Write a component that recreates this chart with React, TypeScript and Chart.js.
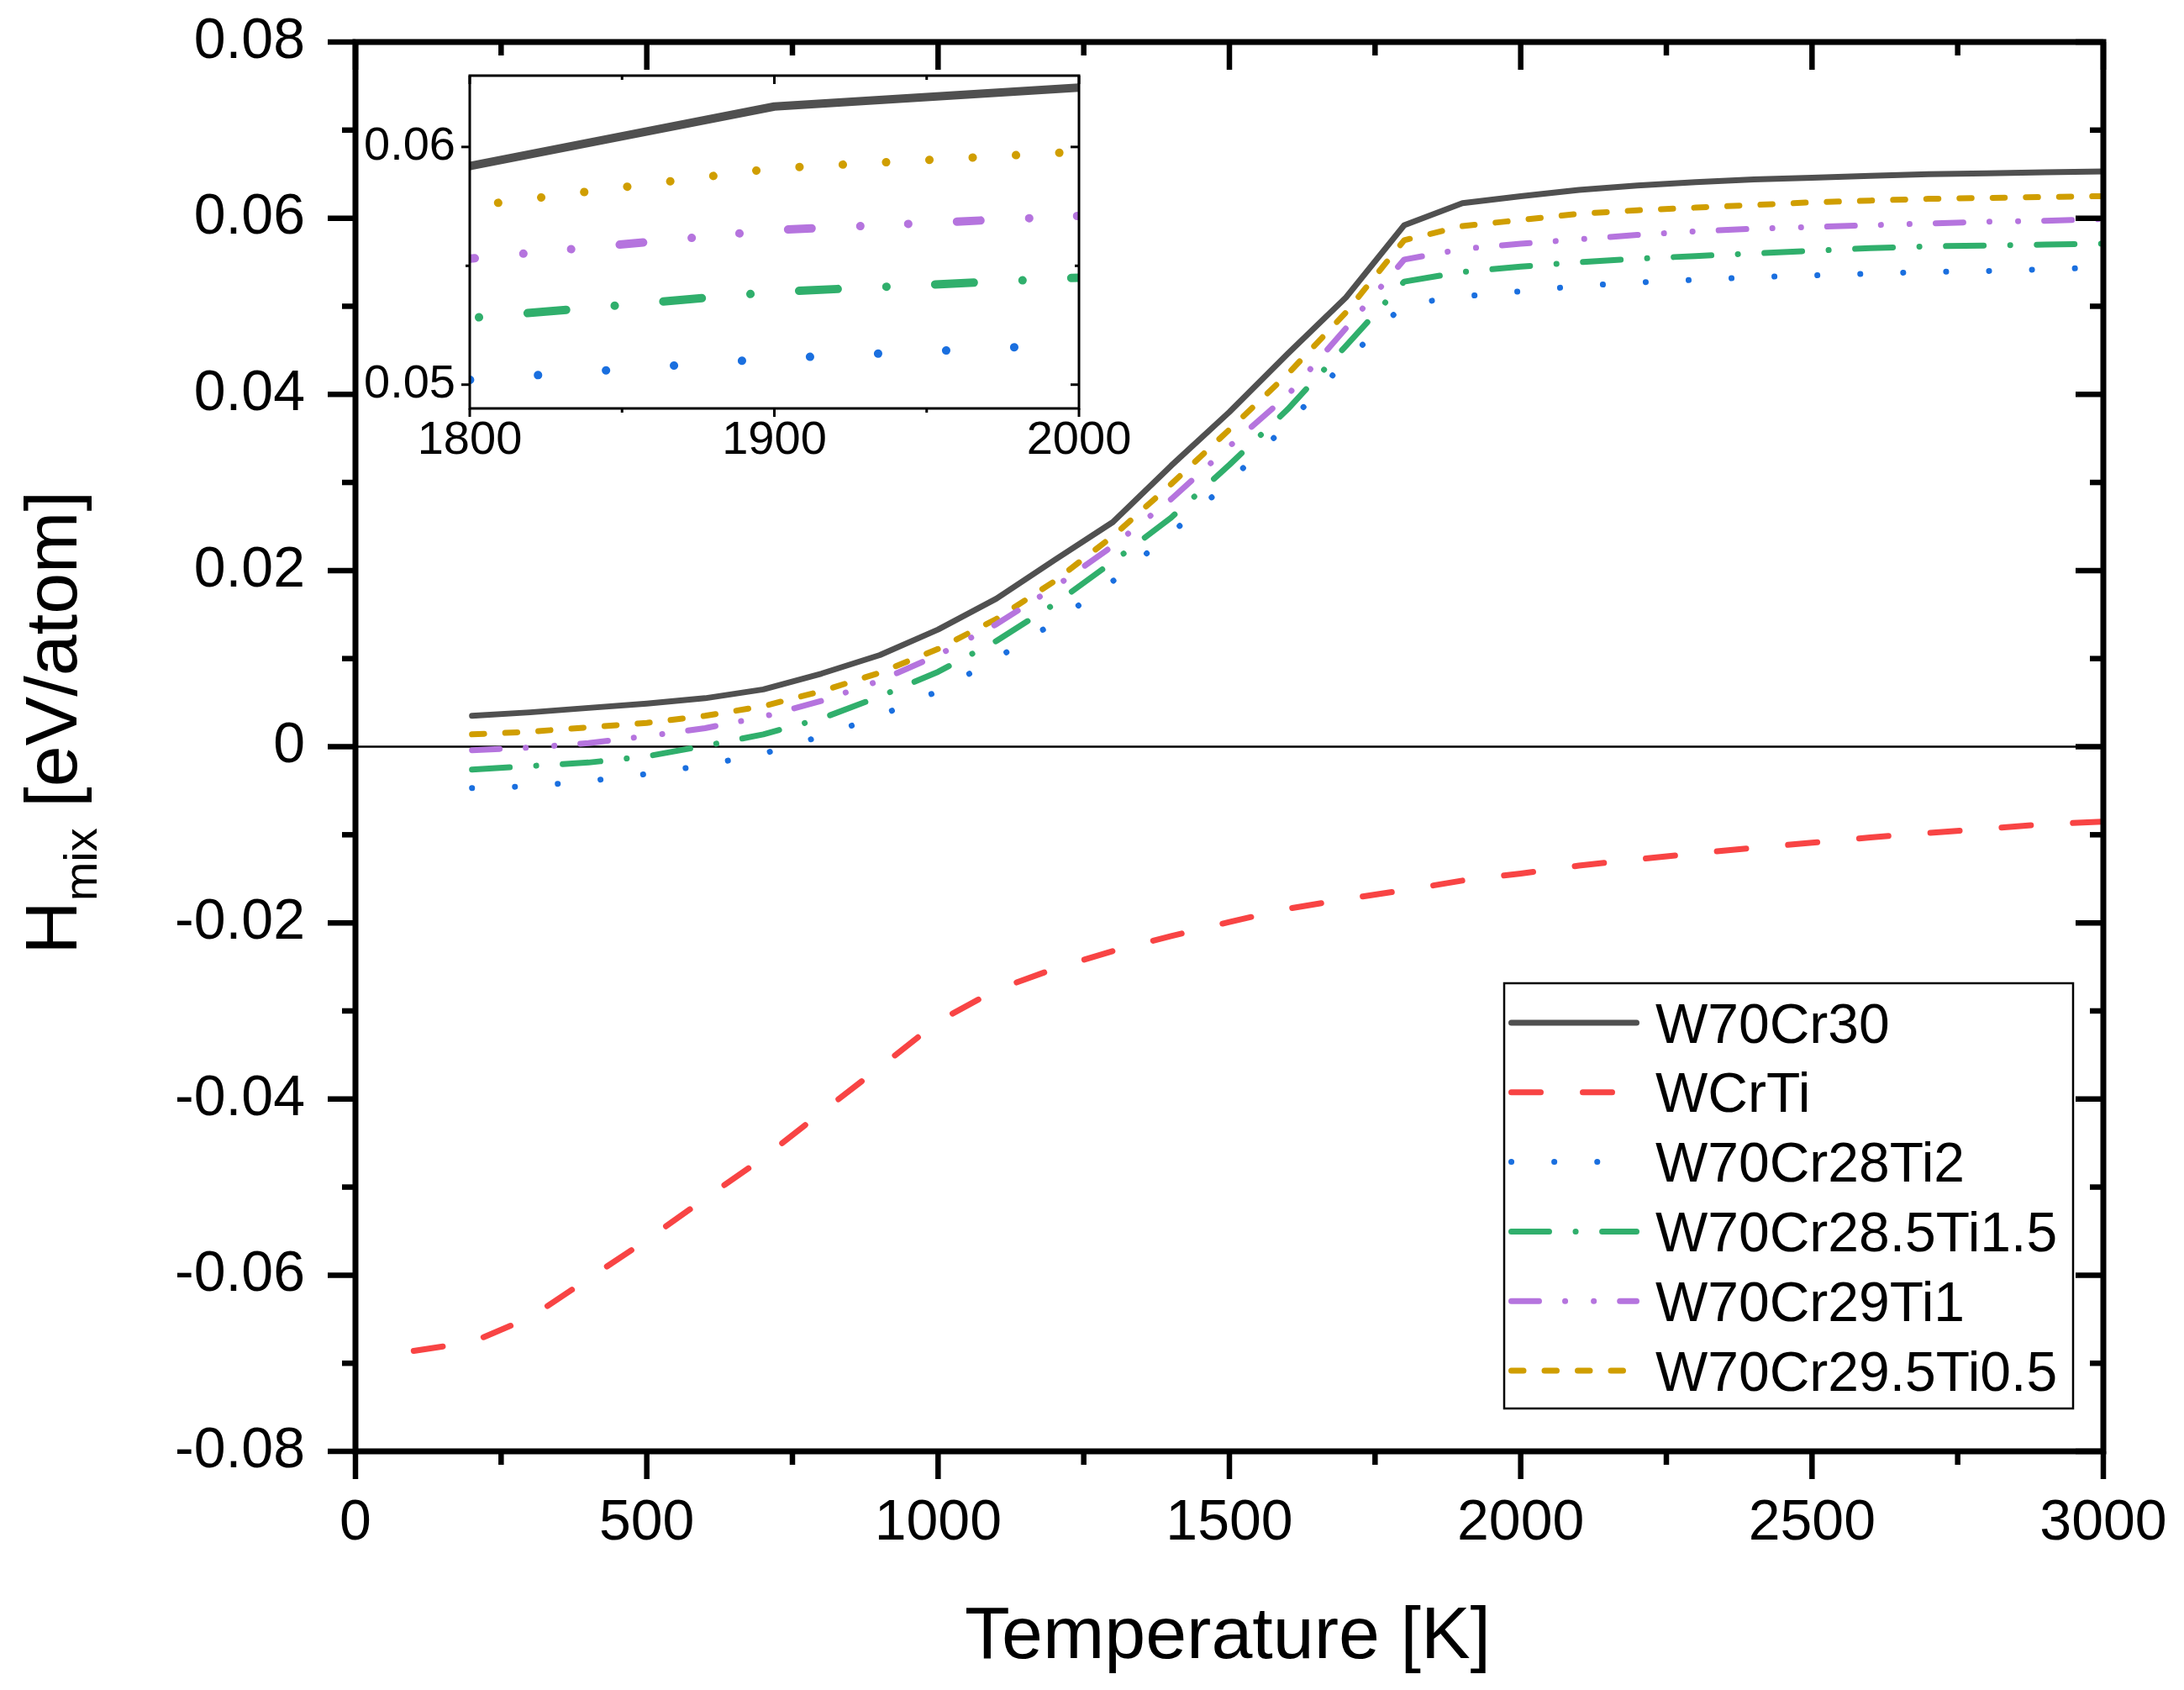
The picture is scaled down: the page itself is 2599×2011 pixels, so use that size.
import React, { useEffect, useRef } from "react";
import Chart from "chart.js/auto";

const FONT = '"Liberation Sans", Arial, sans-serif';

// temperatures [K]
const temperatures = [
  200, 300, 400, 500, 600, 700, 800, 900, 1000, 1100, 1200, 1300, 1400, 1500,
  1600, 1700, 1800, 1900, 2000, 2100, 2200, 2300, 2400, 2500, 2600, 2700,
  2800, 2900, 3000,
];
const temperaturesWCrTi = [
  100, 200, 300, 400, 500, 600, 700, 800, 900, 1000, 1100, 1200, 1300, 1400,
  1500, 1600, 1700, 1800, 1900, 2000, 2100, 2200, 2300, 2400, 2500, 2600,
  2700, 2800, 2900, 3000,
];

// H_mix [eV/atom]
const w70cr30 = [
  0.0035, 0.0039, 0.0044, 0.0049, 0.0055, 0.0065, 0.0083, 0.0104, 0.0133,
  0.0168, 0.0212, 0.0255, 0.0319, 0.038, 0.0446, 0.051, 0.0592, 0.0617,
  0.0625, 0.0632, 0.0637, 0.0641, 0.0644, 0.0646, 0.0648, 0.065, 0.0651,
  0.0652, 0.0653,
];
const wcrti = [
  -0.0686, -0.0676, -0.0648, -0.0604, -0.056, -0.0513, -0.0467, -0.0415,
  -0.0364, -0.0312, -0.0276, -0.0252, -0.0232, -0.0215, -0.0199, -0.0184,
  -0.0173, -0.0163, -0.0152, -0.0144, -0.0135, -0.0128, -0.0121, -0.0115,
  -0.0109, -0.0103, -0.0098, -0.0093, -0.0088, -0.0085,
];
const w70cr28ti2 = [
  -0.0047, -0.0045, -0.0039, -0.0031, -0.0021, -0.0008, 0.0012, 0.0035,
  0.0063, 0.01, 0.0141, 0.0188, 0.0242, 0.0301, 0.0366, 0.0438, 0.0502,
  0.0511, 0.0517, 0.0523, 0.0527, 0.053, 0.0533, 0.0535, 0.0537, 0.0539,
  0.054, 0.0542, 0.0544,
];
const w70cr285ti15 = [
  -0.0026, -0.0022, -0.0018, -0.0011, 0.0001, 0.0014, 0.0032, 0.0057, 0.0085,
  0.012, 0.0162, 0.021, 0.026, 0.032, 0.0383, 0.0455, 0.0528, 0.0539, 0.0545,
  0.055, 0.0554, 0.0557, 0.056, 0.0563, 0.0566, 0.0568, 0.0569, 0.057,
  0.0571,
];
const w70cr29ti1 = [
  -0.0004, -0.0001, 0.0004, 0.0012, 0.0021, 0.0034, 0.0052, 0.0075, 0.0104,
  0.0139, 0.0181, 0.0228, 0.0281, 0.0341, 0.0399, 0.0475, 0.0553, 0.0565,
  0.0571, 0.0576, 0.0581, 0.0585, 0.0588, 0.059, 0.0592, 0.0594, 0.0596,
  0.0597, 0.0599,
];
const w70cr295ti05 = [
  0.0014, 0.0017, 0.0022, 0.0027, 0.0035, 0.0046, 0.0063, 0.0084, 0.0111,
  0.0145, 0.0188, 0.0239, 0.0298, 0.036, 0.0423, 0.0493, 0.0575, 0.0591,
  0.0598, 0.0605, 0.0609, 0.0612, 0.0615, 0.0618, 0.062, 0.0622, 0.0623,
  0.0624, 0.0625,
];

const seriesNames = [
  "W70Cr30",
  "WCrTi",
  "W70Cr28Ti2",
  "W70Cr28.5Ti1.5",
  "W70Cr29Ti1",
  "W70Cr29.5Ti0.5",
];
const seriesTemps = [
  temperatures,
  temperaturesWCrTi,
  temperatures,
  temperatures,
  temperatures,
  temperatures,
];
const seriesValues = [
  w70cr30,
  wcrti,
  w70cr28ti2,
  w70cr285ti15,
  w70cr29ti1,
  w70cr295ti05,
];

// axis ticks
const xMajorMain = [0, 500, 1000, 1500, 2000, 2500, 3000];
const xMinorMain = [250, 750, 1250, 1750, 2250, 2750];
const yMajorMain = [-0.08, -0.06, -0.04, -0.02, 0, 0.02, 0.04, 0.06, 0.08];
const yMinorMain = [-0.07, -0.05, -0.03, -0.01, 0.01, 0.03, 0.05, 0.07];
const xMajorInset = [1800, 1900, 2000];
const xMinorInset = [1850, 1950];
const yMajorInset = [0.05, 0.06];
const yMinorInset = [0.055];

// line looks
const lineStyles = [
  { color: "#505050", main: [] as number[], inset: [] as number[] },
  { color: "#F84444", main: [35, 50], inset: [35, 50] },
  { color: "#1A6FDF", main: [0.1, 51], inset: [0.1, 81] },
  { color: "#30AF6C", main: [45, 31.5, 0.1, 31.5], inset: [46, 58, 0.1, 58] },
  {
    color: "#B574DE",
    main: [33, 31, 0.1, 34, 0.1, 31],
    inset: [28, 58, 0.1, 57, 0.1, 58],
  },
  { color: "#D09E00", main: [14.5, 25], inset: [0.1, 51.5] },
];

function buildDatasets(inset: boolean) {
  return seriesNames.map((name, i) => ({
    label: name,
    data: seriesTemps[i].map((t, j) => ({ x: t, y: seriesValues[i][j] })),
    borderColor: lineStyles[i].color,
    borderWidth: inset ? 10 : 7,
    borderDash: inset ? lineStyles[i].inset : lineStyles[i].main,
    borderCapStyle: "round" as const,
    borderJoinStyle: "round" as const,
    pointRadius: 0,
    tension: 0,
    fill: false,
  }));
}

interface FrameCfg {
  frameWidth: number;
  tickWidth: number;
  major: number;
  minor: number;
  xMajor: number[];
  xMinor: number[];
  yMajor: number[];
  yMinor: number[];
  zeroLine: boolean;
}

function framePlugin(id: string, cfg: FrameCfg) {
  return {
    id,
    beforeDatasetsDraw(chart: any) {
      if (!cfg.zeroLine) return;
      const { ctx, chartArea: a, scales } = chart;
      const y0 = scales.y.getPixelForValue(0);
      ctx.save();
      ctx.strokeStyle = "#000";
      ctx.lineWidth = 2.5;
      ctx.beginPath();
      ctx.moveTo(a.left, y0);
      ctx.lineTo(a.right, y0);
      ctx.stroke();
      ctx.restore();
    },
    afterDraw(chart: any) {
      const { ctx, chartArea: a, scales } = chart;
      ctx.save();
      ctx.strokeStyle = "#000";
      ctx.lineCap = "butt";
      ctx.setLineDash([]);
      ctx.lineWidth = cfg.tickWidth;
      const seg = (x1: number, y1: number, x2: number, y2: number) => {
        ctx.beginPath();
        ctx.moveTo(x1, y1);
        ctx.lineTo(x2, y2);
        ctx.stroke();
      };
      const xTicks = (vals: number[], len: number) =>
        vals.forEach((v) => {
          const x = scales.x.getPixelForValue(v);
          seg(x, a.bottom, x, a.bottom + len);
          seg(x, a.top, x, a.top + len);
        });
      const yTicks = (vals: number[], len: number) =>
        vals.forEach((v) => {
          const y = scales.y.getPixelForValue(v);
          seg(a.left - len, y, a.left, y);
          seg(a.right - len, y, a.right, y);
        });
      xTicks(cfg.xMajor, cfg.major);
      xTicks(cfg.xMinor, cfg.minor);
      yTicks(cfg.yMajor, cfg.major);
      yTicks(cfg.yMinor, cfg.minor);
      ctx.lineWidth = cfg.frameWidth;
      ctx.strokeRect(a.left, a.top, a.right - a.left, a.bottom - a.top);
      ctx.restore();
    },
  };
}

// legend box and axis titles of the main chart
const decorPlugin = {
  id: "decor",
  afterDraw(chart: any) {
    const { ctx } = chart;
    ctx.save();

    // legend
    const box = { x: 1790, y: 1170, w: 677, h: 506 };
    ctx.fillStyle = "#fff";
    ctx.fillRect(box.x, box.y, box.w, box.h);
    ctx.strokeStyle = "#000";
    ctx.lineWidth = 2.5;
    ctx.setLineDash([]);
    ctx.strokeRect(box.x, box.y, box.w, box.h);
    const rowY0 = 1217;
    const rowStep = 82.8;
    chart.data.datasets.forEach((ds: any, i: number) => {
      const y = rowY0 + i * rowStep;
      ctx.save();
      ctx.strokeStyle = ds.borderColor;
      ctx.lineWidth = ds.borderWidth;
      ctx.lineCap = "round";
      ctx.setLineDash(ds.borderDash || []);
      ctx.lineDashOffset = 0;
      ctx.beginPath();
      ctx.moveTo(1798.5, y);
      ctx.lineTo(1947.5, y);
      ctx.stroke();
      ctx.restore();
      ctx.fillStyle = "#000";
      ctx.font = `66px ${FONT}`;
      ctx.textAlign = "left";
      ctx.textBaseline = "alphabetic";
      ctx.fillText(ds.label, 1970, y + 23.6);
    });

    // x title
    ctx.fillStyle = "#000";
    ctx.font = `88px ${FONT}`;
    ctx.textAlign = "center";
    ctx.textBaseline = "alphabetic";
    ctx.fillText("Temperature [K]", 1461, 1973);

    // y title with subscript
    ctx.translate(91, 860);
    ctx.rotate(-Math.PI / 2);
    ctx.textAlign = "left";
    const big = `88px ${FONT}`;
    const small = `56px ${FONT}`;
    ctx.font = big;
    const wH = ctx.measureText("H").width;
    const rest = " [eV/atom]";
    const wRest = ctx.measureText(rest).width;
    ctx.font = small;
    const wSub = ctx.measureText("mix").width;
    let x = -(wH + wSub + wRest) / 2;
    ctx.font = big;
    ctx.fillText("H", x, 0);
    x += wH;
    ctx.font = small;
    ctx.fillText("mix", x, 24);
    x += wSub;
    ctx.font = big;
    ctx.fillText(rest, x, 0);

    ctx.restore();
  },
};

const yLabel = (v: any) => {
  const n = Number(v);
  return Math.abs(n) < 1e-9 ? "0" : n.toFixed(2);
};

// fixed axis size, and no extra room for overhanging labels
const fixSize = (prop: "width" | "height", size: number) => (s: any) => {
  s[prop] = size;
  s.paddingTop = 0;
  s.paddingBottom = 0;
  s.paddingLeft = 0;
  s.paddingRight = 0;
};

function mainConfig(): any {
  return {
    type: "line",
    data: { datasets: buildDatasets(false) },
    options: {
      animation: false,
      responsive: false,
      devicePixelRatio: 1,
      layout: { padding: { left: 0, right: 96, top: 50, bottom: 0 } },
      plugins: { legend: { display: false }, tooltip: { enabled: false } },
      scales: {
        x: {
          type: "linear",
          min: 0,
          max: 3000,
          grid: { display: false, drawTicks: false },
          border: { display: false },
          ticks: {
            stepSize: 500,
            autoSkip: false,
            maxRotation: 0,
            padding: 45,
            color: "#000",
            font: { family: FONT, size: 68 },
            callback: (v: any) => String(v),
          },
          afterFit: fixSize("height", 284),
        },
        y: {
          type: "linear",
          min: -0.08,
          max: 0.08,
          grid: { display: false, drawTicks: false },
          border: { display: false },
          ticks: {
            stepSize: 0.02,
            autoSkip: false,
            padding: 60,
            color: "#000",
            font: { family: FONT, size: 68 },
            callback: yLabel,
          },
          afterFit: fixSize("width", 423),
        },
      },
    },
    plugins: [
      framePlugin("frameMain", {
        frameWidth: 7,
        tickWidth: 6.5,
        major: 33,
        minor: 16,
        xMajor: xMajorMain,
        xMinor: xMinorMain,
        yMajor: yMajorMain,
        yMinor: yMinorMain,
        zeroLine: true,
      }),
      decorPlugin,
    ],
  };
}

function insetConfig(): any {
  return {
    type: "line",
    data: { datasets: buildDatasets(true) },
    options: {
      animation: false,
      responsive: false,
      devicePixelRatio: 1,
      layout: { padding: { left: 0, right: 96, top: 30, bottom: 0 } },
      plugins: { legend: { display: false }, tooltip: { enabled: false } },
      scales: {
        x: {
          type: "linear",
          min: 1800,
          max: 2000,
          grid: { display: false, drawTicks: false },
          border: { display: false },
          ticks: {
            stepSize: 100,
            autoSkip: false,
            maxRotation: 0,
            includeBounds: false,
            padding: 5,
            color: "#000",
            font: { family: FONT, size: 56 },
            callback: (v: any) => String(v),
          },
          afterFit: fixSize("height", 94),
        },
        y: {
          type: "linear",
          min: 0.049,
          max: 0.063,
          grid: { display: false, drawTicks: false },
          border: { display: false },
          ticks: {
            stepSize: 0.01,
            autoSkip: false,
            includeBounds: false,
            padding: 17,
            color: "#000",
            font: { family: FONT, size: 56 },
            callback: yLabel,
          },
          afterFit: fixSize("width", 179),
        },
      },
    },
    plugins: [
      framePlugin("frameInset", {
        frameWidth: 3,
        tickWidth: 3,
        major: 10,
        minor: 5,
        xMajor: xMajorInset,
        xMinor: xMinorInset,
        yMajor: yMajorInset,
        yMinor: yMinorInset,
        zeroLine: false,
      }),
    ],
  };
}

export default function App() {
  const mainRef = useRef<HTMLCanvasElement>(null);
  const insetRef = useRef<HTMLCanvasElement>(null);

  useEffect(() => {
    const charts: Chart[] = [];
    if (mainRef.current) charts.push(new Chart(mainRef.current, mainConfig()));
    if (insetRef.current) charts.push(new Chart(insetRef.current, insetConfig()));
    return () => {
      charts.forEach((c) => c.destroy());
    };
  }, []);

  return (
    <div
      style={{
        position: "absolute",
        left: 0,
        top: 0,
        width: 2599,
        height: 2011,
        background: "#fff",
      }}
    >
      <canvas
        ref={mainRef}
        width={2599}
        height={2011}
        style={{ position: "absolute", left: 0, top: 0, width: 2599, height: 2011 }}
      />
      <canvas
        ref={insetRef}
        width={1000}
        height={520}
        style={{ position: "absolute", left: 380, top: 60, width: 1000, height: 520 }}
      />
    </div>
  );
}
